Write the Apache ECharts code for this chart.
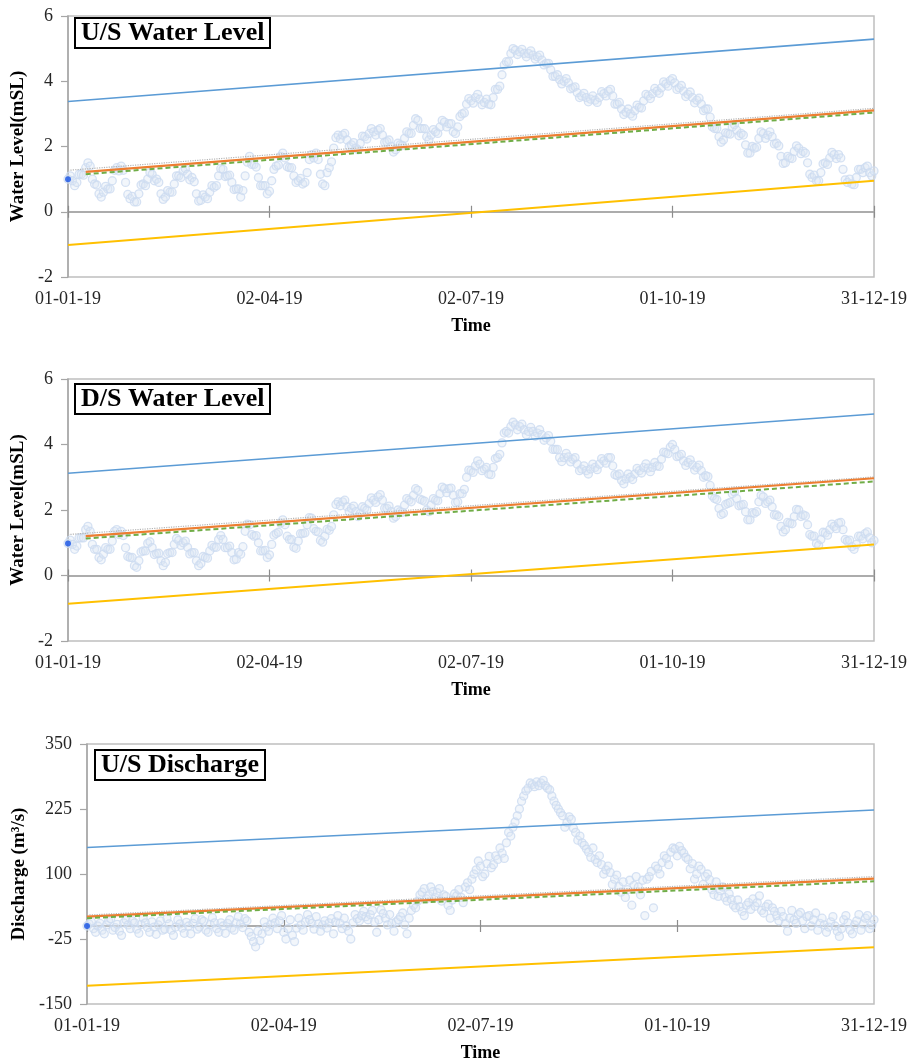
<!DOCTYPE html>
<html><head><meta charset="utf-8">
<script src="https://cdn.jsdelivr.net/npm/echarts@6/dist/echarts.min.js"></script>
<style>html,body{margin:0;padding:0;background:#fff}#c{width:923px;height:1061px}</style>
</head><body><div id="c"></div>
<script>
// ---------------- data ----------------
const xTickDays = [0, 91, 182, 273, 364];
const xTickLabels = ['01-01-19', '02-04-19', '02-07-19', '01-10-19', '31-12-19'];
const obsStepDays = 1;
const panelTitles = ['U/S Water Level', 'D/S Water Level', 'U/S Discharge'];
const yAxisNames = ['Water Level(mSL)', 'Water Level(mSL)', 'Discharge (m\u00b3/s)'];
const xAxisName = 'Time';
const levelTicks = [-2, 0, 2, 4, 6];
const flowTicks = [-150, -25, 100, 225, 350];

// observed daily series from 01-01-19
const usLevel = [
  1.00,1.10,0.95,0.80,0.90,1.15,1.15,1.12,1.35,1.50,1.40,1.00,0.85,0.82,0.55,0.45,0.60,0.78,0.70,0.70,
  0.95,1.27,1.35,1.25,1.40,1.27,0.90,0.53,0.40,0.47,0.30,0.30,0.55,0.82,0.85,0.80,1.00,1.20,1.15,0.95,
  1.00,0.90,0.55,0.38,0.45,0.65,0.60,0.60,0.85,1.10,1.10,1.05,1.25,1.32,1.15,0.98,1.05,0.92,0.55,0.33,
  0.35,0.52,0.45,0.40,0.60,0.80,0.75,0.80,1.10,1.32,1.30,1.08,1.10,1.12,0.90,0.68,0.70,0.70,0.45,0.65,
  1.10,1.52,1.70,1.45,1.45,1.37,1.05,0.80,0.80,0.80,0.55,0.63,0.95,1.30,1.40,1.43,1.70,1.80,1.65,1.38,
  1.35,1.35,1.10,0.90,0.95,1.02,0.85,0.90,1.20,1.60,1.75,1.65,1.80,1.60,1.15,0.85,0.80,1.20,1.35,1.53,
  1.95,2.27,2.35,2.23,2.35,2.40,2.20,2.00,2.05,2.12,1.95,1.90,2.10,2.32,2.30,2.23,2.40,2.55,2.45,2.35,
  2.50,2.55,2.35,2.13,2.15,2.20,2.00,1.83,1.90,2.10,2.05,2.03,2.25,2.45,2.40,2.40,2.65,2.85,2.80,2.55,
  2.55,2.55,2.30,2.20,2.35,2.52,2.45,2.40,2.60,2.80,2.75,2.60,2.70,2.70,2.45,2.40,2.60,2.92,3.00,3.03,
  3.30,3.47,3.40,3.33,3.50,3.60,3.45,3.28,3.35,3.45,3.30,3.28,3.50,3.75,3.75,3.85,4.20,4.50,4.60,4.60,
  4.85,5.00,4.95,4.82,4.90,4.98,4.85,4.75,4.85,4.93,4.80,4.68,4.75,4.80,4.65,4.50,4.55,4.55,4.35,4.15,
  4.15,4.20,4.05,3.92,4.00,4.08,3.95,3.77,3.80,3.83,3.65,3.50,3.55,3.63,3.50,3.37,3.45,3.55,3.42,3.35,
  3.50,3.68,3.62,3.55,3.70,3.75,3.55,3.30,3.30,3.35,3.15,2.98,3.05,3.15,3.00,2.93,3.10,3.27,3.20,3.18,
  3.40,3.60,3.55,3.47,3.62,3.78,3.70,3.63,3.80,3.98,3.92,3.85,4.02,4.08,3.95,3.75,3.80,3.87,3.70,3.53,
  3.60,3.67,3.50,3.34,3.42,3.48,3.30,3.10,3.15,3.15,2.90,2.60,2.55,2.55,2.30,2.13,2.20,2.42,2.40,2.38,
  2.60,2.67,2.50,2.33,2.40,2.35,2.05,1.80,1.80,2.00,1.95,1.98,2.25,2.45,2.40,2.25,2.35,2.45,2.30,2.08,
  2.10,2.02,1.70,1.48,1.50,1.70,1.65,1.63,1.85,2.02,1.95,1.78,1.85,1.80,1.50,1.15,1.05,1.12,0.95,0.95,
  1.20,1.47,1.50,1.45,1.65,1.82,1.75,1.63,1.75,1.65,1.30,0.98,0.90,1.00,0.85,0.83,1.05,1.30,1.30,1.20,
  1.35,1.40,1.20,1.10,1.25
];
const dsLevel = [
  0.98,1.08,0.95,0.80,0.90,1.15,1.15,1.15,1.40,1.50,1.35,0.95,0.80,0.80,0.55,0.48,0.65,0.85,0.80,0.80,
  1.05,1.35,1.40,1.25,1.35,1.22,0.85,0.58,0.55,0.55,0.30,0.25,0.45,0.72,0.75,0.75,0.98,1.03,0.85,0.64,
  0.67,0.68,0.45,0.30,0.40,0.67,0.70,0.70,0.95,1.13,1.07,0.92,1.00,1.05,0.86,0.66,0.70,0.70,0.45,0.30,
  0.37,0.58,0.55,0.53,0.75,0.92,0.86,0.86,1.10,1.22,1.10,0.85,0.85,0.90,0.70,0.48,0.50,0.70,0.65,0.88,
  1.35,1.57,1.55,1.25,1.20,1.22,1.00,0.75,0.75,0.77,0.55,0.63,0.95,1.23,1.28,1.32,1.60,1.70,1.55,1.20,
  1.10,1.10,0.86,0.83,1.05,1.28,1.28,1.30,1.55,1.77,1.75,1.43,1.35,1.33,1.07,1.02,1.20,1.41,1.38,1.50,
  1.85,2.17,2.25,2.13,2.25,2.30,2.10,1.95,2.05,2.12,1.95,1.80,1.90,2.10,2.05,2.00,2.20,2.37,2.30,2.23,
  2.40,2.47,2.30,2.05,2.05,2.12,1.95,1.75,1.80,2.00,1.95,1.93,2.15,2.35,2.30,2.25,2.45,2.65,2.60,2.33,
  2.30,2.27,2.00,1.95,2.15,2.35,2.30,2.28,2.50,2.70,2.65,2.53,2.65,2.67,2.45,2.23,2.25,2.50,2.50,2.63,
  3.00,3.22,3.20,3.15,3.35,3.50,3.40,3.20,3.25,3.30,3.10,3.08,3.30,3.57,3.60,3.70,4.05,4.35,4.40,4.35,
  4.55,4.68,4.60,4.45,4.55,4.62,4.45,4.30,4.40,4.52,4.40,4.25,4.35,4.45,4.30,4.13,4.20,4.27,4.10,3.85,
  3.85,3.85,3.60,3.48,3.60,3.73,3.62,3.47,3.55,3.60,3.40,3.20,3.25,3.35,3.20,3.10,3.25,3.40,3.30,3.23,
  3.40,3.57,3.50,3.43,3.60,3.60,3.35,3.08,3.05,3.10,2.90,2.80,2.95,3.10,3.00,2.93,3.10,3.27,3.20,3.13,
  3.30,3.41,3.28,3.17,3.30,3.45,3.35,3.33,3.55,3.77,3.75,3.72,3.92,4.00,3.85,3.63,3.65,3.70,3.50,3.36,
  3.45,3.53,3.38,3.22,3.30,3.37,3.20,3.00,3.05,3.02,2.75,2.43,2.35,2.32,2.05,1.86,1.90,2.17,2.20,2.23,
  2.50,2.55,2.35,2.13,2.15,2.17,1.95,1.70,1.70,1.92,1.90,1.95,2.25,2.45,2.40,2.20,2.25,2.30,2.10,1.85,
  1.85,1.80,1.50,1.33,1.40,1.62,1.60,1.58,1.80,2.02,2.00,1.80,1.85,1.82,1.55,1.25,1.20,1.20,0.98,0.92,
  1.10,1.32,1.30,1.23,1.40,1.57,1.50,1.43,1.60,1.62,1.40,1.10,1.05,1.08,0.88,0.80,0.95,1.20,1.20,1.12,
  1.28,1.33,1.15,1.00,1.07
];
const usFlow = [
  0,4,8,-5,-12,0,5,-8,-15,2,10,14,-8,-3,3,-10,-18,6,12,2,
  -5,10,6,-6,-14,3,15,6,-3,-12,8,-2,-16,2,10,-8,-6,14,4,-8,
  -18,-2,12,4,-4,-14,7,0,-15,5,14,-6,-2,12,9,-8,-12,3,16,6,
  -5,-12,6,0,-14,5,12,-4,-8,6,18,4,-3,14,10,-12,-20,-30,-40,-10,
  -28,-15,8,-2,-10,3,15,6,-5,10,20,-12,-25,-5,12,-18,-30,-4,15,2,
  -8,8,22,12,5,-6,18,4,-10,2,10,-4,6,14,-15,8,20,5,-5,15,
  0,-10,-25,6,22,14,10,20,28,18,12,22,30,8,-12,12,31,24,15,2,
  22,5,-10,8,12,18,25,2,-15,15,30,40,35,48,60,65,72,52,58,75,
  66,55,64,72,48,60,57,40,30,50,62,58,70,55,45,75,83,70,90,100,
  108,125,115,95,100,120,134,112,118,135,128,150,140,130,160,180,173,190,200,212,
  225,240,250,260,265,275,272,268,277,270,275,280,270,265,262,250,240,232,225,218,
  212,190,199,210,205,188,180,165,173,160,155,148,142,132,150,128,122,135,118,100,
  108,115,103,80,90,98,76,65,85,55,70,88,40,78,95,75,60,88,20,90,
  95,105,35,115,110,100,122,135,130,118,142,150,148,135,153,145,140,132,128,110,
  120,90,100,115,109,80,95,100,89,70,60,85,57,68,75,55,48,62,51,40,
  35,50,37,28,20,40,45,32,52,38,45,58,30,25,37,42,15,35,28,20,
  10,28,18,5,-10,15,30,12,5,22,26,10,-5,18,20,0,12,25,-8,5,
  15,2,-12,-2,8,18,0,-10,-20,-5,12,20,6,-8,-15,2,10,22,-8,4,
  15,20,-5,2,12
];
const startValues = [1.0, 0.98, 0];

// straight reference lines: value at first and last day
const boundDays = [0, 364];
const trendDaysLevel = [8, 364];
const trendDaysFlow = [0, 364];
const usLevelUpper = [3.38, 5.29];
const usLevelLower = [-1.02, 0.95];
const usLevelTrendA = [1.22, 3.11];
const usLevelTrendB = [1.15, 3.04];
const usLevelTrendC = [1.27, 3.17];
const dsLevelUpper = [3.12, 4.93];
const dsLevelLower = [-0.86, 0.95];
const dsLevelTrendA = [1.20, 2.97];
const dsLevelTrendB = [1.13, 2.87];
const dsLevelTrendC = [1.25, 3.01];
const usFlowUpper = [151, 223];
const usFlowLower = [-115, -41];
const usFlowTrendA = [18, 91];
const usFlowTrendB = [15, 86];
const usFlowTrendC = [21, 95];

// ---------------- layout / styles ----------------
const SERIF = '"Times New Roman","Liberation Serif",serif';
const panels = [
  { rect: {left: 68, top: 16, width: 806, height: 261}, ticks: levelTicks, nameGap: 34, title: [75, 18],
    obs: usLevel, upper: usLevelUpper, lower: usLevelLower, tA: usLevelTrendA, tB: usLevelTrendB, tC: usLevelTrendC, tDays: trendDaysLevel },
  { rect: {left: 68, top: 379, width: 806, height: 262}, ticks: levelTicks, nameGap: 34, title: [75, 384],
    obs: dsLevel, upper: dsLevelUpper, lower: dsLevelLower, tA: dsLevelTrendA, tB: dsLevelTrendB, tC: dsLevelTrendC, tDays: trendDaysLevel },
  { rect: {left: 87, top: 744, width: 787, height: 260}, ticks: flowTicks, nameGap: 53, title: [95, 750],
    obs: usFlow, upper: usFlowUpper, lower: usFlowLower, tA: usFlowTrendA, tB: usFlowTrendB, tC: usFlowTrendC, tDays: trendDaysFlow }
];

const grids = [], xAxes = [], yAxes = [], series = [], titles = [];
const GRAY = '#A6A6A6';
panels.forEach((p, i) => {
  const ymin = p.ticks[0], ymax = p.ticks[p.ticks.length - 1];
  const g0 = grids.length;
  grids.push(Object.assign({show: true, borderColor: '#BFBFBF', borderWidth: 1.5, containLabel: false, outerBoundsMode: 'none'}, p.rect));
  xAxes.push({
    type: 'value', gridIndex: g0, min: 0, max: 364, position: 'bottom',
    name: xAxisName, nameLocation: 'middle', nameGap: 40,
    nameTextStyle: {fontFamily: SERIF, fontWeight: 'bold', fontSize: 18, color: '#000'},
    axisLine: {show: false, onZero: false}, axisTick: {show: false}, splitLine: {show: false},
    axisLabel: {show: true, customValues: xTickDays, margin: 13, fontFamily: SERIF, fontSize: 18, color: '#262626',
      showMinLabel: true, showMaxLabel: true,
      formatter: v => xTickLabels[xTickDays.indexOf(Math.round(v))] || ''}
  });
  yAxes.push({
    type: 'value', gridIndex: g0, min: ymin, max: ymax,
    name: yAxisNames[i], nameLocation: 'middle', nameGap: p.nameGap,
    nameTextStyle: {fontFamily: SERIF, fontWeight: 'bold', fontSize: 19, color: '#000'},
    axisLine: {show: true, onZero: false, lineStyle: {color: GRAY, width: 1.5}},
    axisTick: {show: true, customValues: p.ticks, length: 7, lineStyle: {color: GRAY, width: 1.2}},
    axisLabel: {customValues: p.ticks, margin: 15, fontFamily: SERIF, fontSize: 18, color: '#262626'},
    splitLine: {show: false}
  });
  ['bottom', 'top'].forEach(pos => {
    const g = grids.length;
    grids.push(Object.assign({show: false, containLabel: false, outerBoundsMode: 'none'}, p.rect));
    xAxes.push({
      type: 'value', gridIndex: g, min: 0, max: 364, position: pos,
      axisLine: {show: true, onZero: true, lineStyle: {color: GRAY, width: 1.5}},
      axisTick: {show: true, customValues: xTickDays, length: 6, lineStyle: {color: '#8C8C8C', width: 1.2}},
      axisLabel: {show: false}, splitLine: {show: false}
    });
    yAxes.push({type: 'value', gridIndex: g, min: ymin, max: ymax, show: false, splitLine: {show: false}});
  });

  const ax = {xAxisIndex: g0, yAxisIndex: g0};
  const line = (days, vals, color, width, type) => Object.assign({
    type: 'line', data: days.map((d, k) => [d, vals[k]]), symbol: 'none', silent: true, z: 3,
    lineStyle: {color, width, type: type || 'solid'}
  }, ax);
  series.push(Object.assign({
    type: 'scatter', data: p.obs.map((v, k) => [k * obsStepDays, v]),
    symbol: 'circle', symbolSize: 8, silent: true, large: false, z: 2,
    itemStyle: {color: 'rgba(220,230,245,0.45)', borderColor: '#CCDBF0', borderWidth: 1.3}
  }, ax));
  series.push(line(boundDays, p.upper, '#5B9BD5', 1.6));
  series.push(line(boundDays, p.lower, '#FFC000', 2));
  series.push(line(boundDays, p.tC, '#B4B4B4', 1.2, 'dotted'));
  series.push(line(p.tDays, p.tA, '#ED7D31', 2.2));
  series.push(line(p.tDays, p.tB, '#70AD47', 2, [5, 3]));
  series.push(Object.assign({
    type: 'scatter', data: [[0, startValues[i]]], symbol: 'circle', symbolSize: 6, silent: true, z: 4,
    itemStyle: {color: '#1753E6'}
  }, ax));

  titles.push({
    text: panelTitles[i], left: p.title[0], top: p.title[1], padding: [2, 6],
    borderColor: '#000', borderWidth: 2, backgroundColor: '#fff',
    textStyle: {fontFamily: SERIF, fontWeight: 'bold', fontSize: 26, color: '#000'}
  });
});

const chart = echarts.init(document.getElementById('c'), null, {renderer: 'canvas'});
chart.setOption({
  animation: false,
  backgroundColor: '#fff',
  title: titles,
  grid: grids,
  xAxis: xAxes,
  yAxis: yAxes,
  series: series
});
</script>
</body></html>
